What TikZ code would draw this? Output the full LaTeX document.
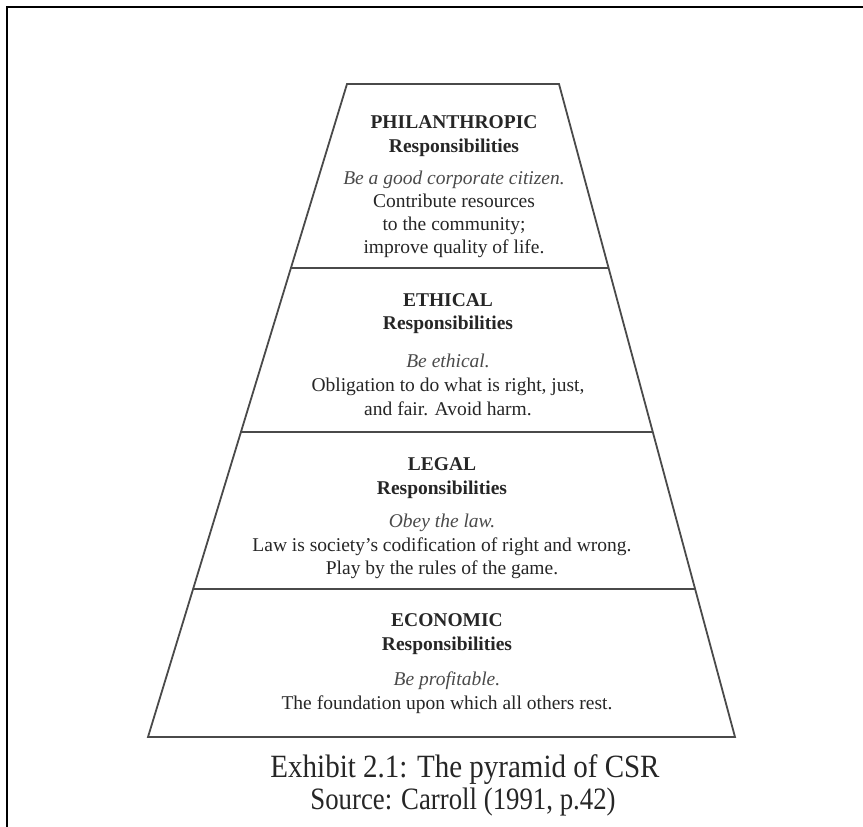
\documentclass[tikz,border=0pt]{standalone}
\usepackage{fontspec}
\setmainfont{Liberation Serif}
\usetikzlibrary{calc}
\definecolor{edgegray}{HTML}{4A4A4A}
\definecolor{textdark}{HTML}{262626}
\definecolor{textmid}{HTML}{4A4A4A}
\tikzset{
  frameline/.style={line width=2.2pt, black},
  tier/.style={draw=edgegray, line width=1.8pt, line join=miter},
  divider/.style={draw=edgegray, line width=1.8pt},
  txt/.style={anchor=base, inner sep=0pt, text=textdark},
  head/.style={txt, font=\bfseries\fontsize{19.5}{23}\selectfont},
  motto/.style={txt, text=textmid, font=\itshape\fontsize{19.5}{23}\selectfont},
  body/.style={txt, font=\fontsize{19.5}{23}\selectfont},
  capline/.style={txt, font=\fontsize{29}{32}\selectfont},
  srcline/.style={txt, font=\fontsize{26.8}{30}\selectfont},
}
\begin{document}
\begin{tikzpicture}[x=1pt, y=-1pt]
  \useasboundingbox (0,0) rectangle (863,827);
  \fill[white] (0,0) rectangle (863,827);

  % outer frame (top and left edges)
  \coordinate (fbl) at (7,827);
  \coordinate (ftl) at (7,7);
  \coordinate (ftr) at (863,7);
  \draw[frameline] (fbl) -- (ftl) -- (ftr);

  % pyramid outline
  \coordinate (tl) at (347,84);
  \coordinate (tr) at (559,84);
  \coordinate (bl) at (148,737);
  \coordinate (br) at (735,737);
  \draw[tier] (tl) -- (tr) -- (br) -- (bl) -- cycle;

  % tier dividers
  \coordinate (d1l) at ($(tl)!{(268-84)/653}!(bl)$);
  \coordinate (d1r) at ($(tr)!{(268-84)/653}!(br)$);
  \coordinate (d2l) at ($(tl)!{(432-84)/653}!(bl)$);
  \coordinate (d2r) at ($(tr)!{(432-84)/653}!(br)$);
  \coordinate (d3l) at ($(tl)!{(589-84)/653}!(bl)$);
  \coordinate (d3r) at ($(tr)!{(589-84)/653}!(br)$);
  \draw[divider] (d1l) -- (d1r);
  \draw[divider] (d2l) -- (d2r);
  \draw[divider] (d3l) -- (d3r);

  % philanthropic tier
  \node[head]  (ph1) at (454,128) {PHILANTHROPIC};
  \node[head]  (ph2) at (454,152) {Responsibilities};
  \node[motto] (ph3) at (454,184) {Be a good corporate citizen.};
  \node[body]  (ph4) at (454,207) {Contribute resources};
  \node[body]  (ph5) at (454,230) {to the community;};
  \node[body]  (ph6) at (454,253) {improve quality of life.};

  % ethical tier
  \node[head]  (et1) at (448,306) {ETHICAL};
  \node[head]  (et2) at (448,329) {Responsibilities};
  \node[motto] (et3) at (448,367) {Be ethical.};
  \node[body]  (et4) at (448,391) {Obligation to do what is right, just,};
  \node[body]  (et5) at (448,415) {and fair. Avoid harm.};

  % legal tier
  \node[head]  (lg1) at (442,470) {LEGAL};
  \node[head]  (lg2) at (442,494) {Responsibilities};
  \node[motto] (lg3) at (442,527) {Obey the law.};
  \node[body]  (lg4) at (442,551) {Law is society’s codification of right and wrong.};
  \node[body]  (lg5) at (442,574) {Play by the rules of the game.};

  % economic tier
  \node[head]  (ec1) at (447,626) {ECONOMIC};
  \node[head]  (ec2) at (447,650) {Responsibilities};
  \node[motto] (ec3) at (447,685) {Be profitable.};
  \node[body]  (ec4) at (447,709) {The foundation upon which all others rest.};

  % caption, set a little taller than wide
  \node[capline] (cap) at (465,777) {\scalebox{1}[1.12]{Exhibit 2.1: The pyramid of CSR}};
  \node[srcline] (src) at (463,809) {\scalebox{1}[1.16]{Source: Carroll (1991, p.42)}};
\end{tikzpicture}
\end{document}
